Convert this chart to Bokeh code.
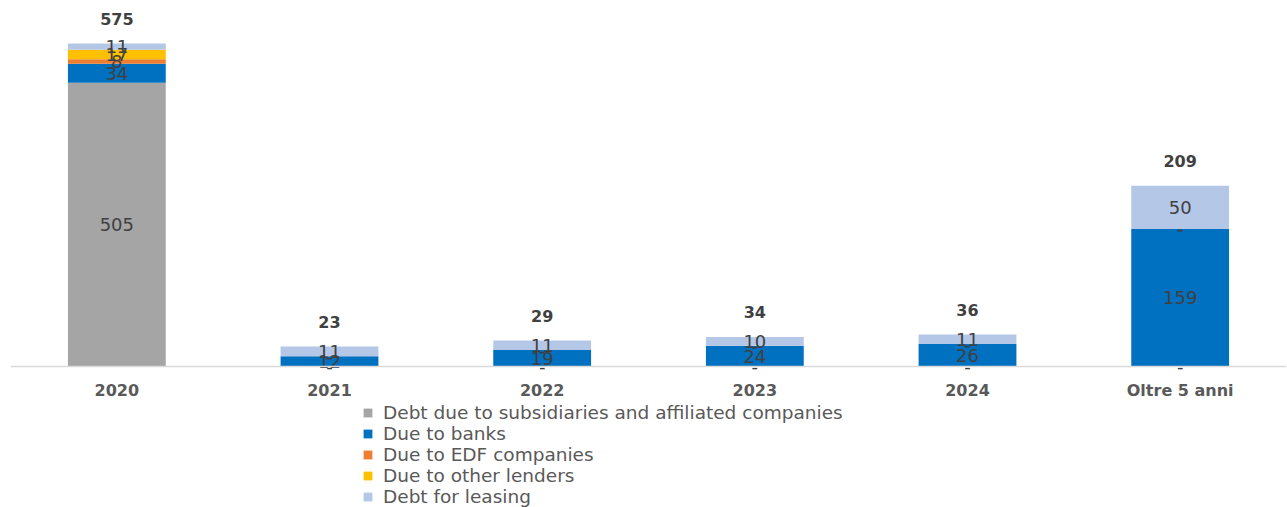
from bokeh.plotting import figure
from bokeh.models import ColumnDataSource, Range1d, Legend, LegendItem, FactorRange
from bokeh.core.properties import value
from bokeh.embed import file_html
from bokeh.resources import INLINE

categories = ["2020", "2021", "2022", "2023", "2024", "Oltre 5 anni"]
series_names = ["Debt due to subsidiaries and affiliated companies", "Due to banks",
                "Due to EDF companies", "Due to other lenders", "Debt for leasing"]
subsidiaries = [505, 0, 0, 0, 0, 0]
banks = [34, 12, 19, 24, 26, 159]
edf = [8, 0, 0, 0, 0, 0]
other_lenders = [17, 0, 0, 0, 0, 0]
leasing = [11, 11, 11, 10, 11, 50]
totals = [575, 23, 29, 34, 36, 209]
colors = ["#a5a5a5", "#0070c0", "#ed7d31", "#ffc000", "#b4c7e7"]
keys = ["s0", "s1", "s2", "s3", "s4"]
series = [subsidiaries, banks, edf, other_lenders, leasing]

FONT = "DejaVu Sans"

p = figure(width=1287, height=507, x_range=FactorRange(*categories), y_range=Range1d(-163, 411.6),
           output_backend="svg", toolbar_location=None,
           min_border_left=10, min_border_right=1, min_border_top=10, min_border_bottom=0)
p.extra_y_ranges = {"y2020": Range1d(-251, 633.8)}
p.outline_line_color = None
p.xgrid.grid_line_color = None
p.ygrid.grid_line_color = None
p.yaxis.visible = False
p.background_fill_color = "white"
p.border_fill_color = "white"

def make_source(idx):
    d = {"x": [categories[i] for i in idx]}
    for k, s in zip(keys, series):
        d[k] = [s[i] for i in idx]
    return ColumnDataSource(d)

first = [0]
rest = [1, 2, 3, 4, 5]
src_first = make_source(first)
src_rest = make_source(rest)

r_first = p.vbar_stack(keys, x="x", width=0.46, color=colors, source=src_first,
                       line_color=None, y_range_name="y2020")
r_rest = p.vbar_stack(keys, x="x", width=0.46, color=colors, source=src_rest, line_color=None)

def label_data(idx):
    xs, ys, ts = [], [], []
    for i in idx:
        base = 0
        for s in series:
            v = s[i]
            xs.append(categories[i])
            ys.append(base + v / 2)
            ts.append(str(v) if v != 0 else "-")
            base += v
    return ColumnDataSource(dict(x=xs, y=ys, t=ts))

for idx, rn in ((first, "y2020"), (rest, "default")):
    src = label_data(idx)
    p.text(x="x", y="y", text="t", source=src, text_align="center", text_baseline="middle",
           text_font=value(FONT), text_font_size="18px", text_color="#404040", y_range_name=rn)
    tsrc = ColumnDataSource(dict(x=[categories[i] for i in idx], y=[totals[i] for i in idx],
                                 t=[str(totals[i]) for i in idx]))
    p.text(x="x", y="y", text="t", source=tsrc, text_align="center", text_baseline="middle",
           y_offset=-25, text_font=value(FONT), text_font_size="16px", text_font_style="bold",
           text_color="#404040", y_range_name=rn)

ax = p.xaxis[0]
ax.fixed_location = 0
ax.axis_line_color = "#d9d9d9"
ax.axis_line_width = 1.5
ax.major_tick_line_color = None
ax.minor_tick_line_color = None
ax.major_label_text_font = FONT
ax.major_label_text_font_size = "16px"
ax.major_label_text_font_style = "bold"
ax.major_label_text_color = "#595959"
ax.major_label_standoff = 8

items = [LegendItem(label=n, renderers=[r]) for n, r in zip(series_names, r_rest)]
legend = Legend(items=items, location=(352, 0), orientation="vertical",
                label_text_font=FONT, label_text_font_size="18.5px", label_text_color="#595959",
                glyph_width=11, glyph_height=11, label_height=20, label_standoff=10,
                spacing=0, padding=0, margin=0, border_line_color=None,
                background_fill_alpha=0)
p.add_layout(legend, "center")

open("out.html", "w").write(file_html(p, INLINE))
